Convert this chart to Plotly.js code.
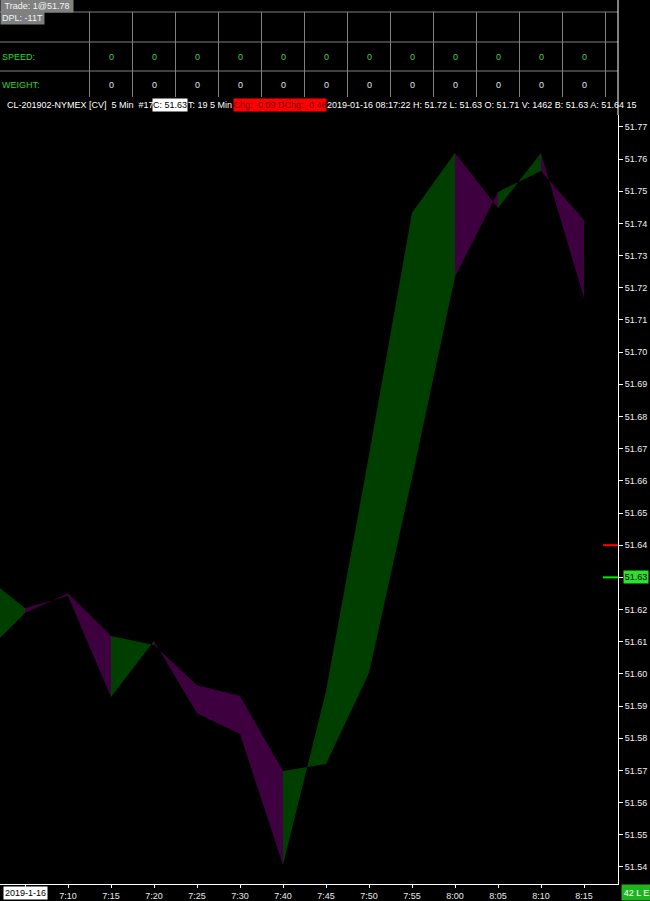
<!DOCTYPE html>
<html><head><meta charset="utf-8">
<script src="https://cdn.plot.ly/plotly-3.0.1.min.js"></script>
<style>html,body{margin:0;padding:0;background:#000;overflow:hidden}#chart{width:650px;height:901px}</style>
</head><body><div id="chart"></div>
<script>
// ---- data ----
const times = ["7:00","7:05","7:10","7:15","7:20","7:25","7:30","7:40","7:45","7:50","7:55","8:00","8:05","8:10","8:15"];
const lineA = [51.631, 51.6205, 51.6242, 51.5928, 51.6102, 51.5878, 51.5813, 51.5406, 51.5947, 51.668, 51.7433, 51.7619, 51.7448, 51.7619, 51.7168];
const lineB = [51.6056, 51.6189, 51.6251, 51.6118, 51.609, 51.5965, 51.5931, 51.5698, 51.572, 51.6003, 51.6609, 51.7234, 51.7498, 51.7563, 51.7411];
const priceTicks = [51.54,51.55,51.56,51.57,51.58,51.59,51.60,51.61,51.62,51.63,51.64,51.65,51.66,51.67,51.68,51.69,51.70,51.71,51.72,51.73,51.74,51.75,51.76,51.77];
const dateLabel = "2019-1-16";
const tableColumns = ["7:15","7:20","7:25","7:30","7:40","7:45","7:50","7:55","8:00","8:05","8:10","8:15"];
const speedValues = [0,0,0,0,0,0,0,0,0,0,0,0];
const weightValues = [0,0,0,0,0,0,0,0,0,0,0,0];
const bidPrice = 51.63, askPrice = 51.64;
const tradeText = "Trade: 1@51.78";
const dplText = "DPL: -11T";
const symbolText = "CL-201902-NYMEX [CV]\u00a0 5 Min\u00a0 #17";
const closeText = "C: 51.63";
const timeText = "T: 19 5 Min";
const chgText = "Chg: -0.09 DChg: -0.48";
const quoteText = "2019-01-16 08:17:22 H: 51.72 L: 51.63 O: 51.71 V: 1462 B: 51.63 A: 51.64 15";
const barCountText = "42 L E";

// ---- layout helpers ----
const W = 650, H = 901, M = {l:0, r:32, t:115, b:17};
const plotW = W - M.l - M.r, plotH = H - M.t - M.b;
const px = x => (x - M.l) / plotW;
const py = y => (H - M.b - y) / plotH;
const FONT = "Liberation Sans, Arial, sans-serif";
const FS = 9;
const UP = "#003f00", DOWN = "#3f003f";

const idx = times.map((_, i) => i);

// ---- traces: band segments ----
const traces = [];
for (let k = 1; k < times.length; k++) {
  const up = lineA[k] >= lineB[k];
  traces.push({
    type: "scatter", mode: "lines",
    x: [idx[k-1], idx[k], idx[k], idx[k-1], idx[k-1]],
    y: [lineA[k-1], lineA[k], lineB[k], lineB[k-1], lineA[k-1]],
    fill: "toself", fillcolor: up ? UP : DOWN,
    line: {width: 0, color: up ? UP : DOWN},
    hoverinfo: "skip", showlegend: false
  });
}

// ---- shapes ----
const shapes = [];
const gray = "#808080";
[12, 42, 71].forEach(y => shapes.push({type:"line", xref:"paper", yref:"paper", x0:0, x1:1, y0:py(y), y1:py(y), line:{color:gray, width:1}}));
const colIdx = tableColumns.map(t => times.indexOf(t));
colIdx.forEach((c, j) => {
  shapes.push({type:"line", xref:"x", yref:"paper", x0:c-0.5, x1:c-0.5, y0:py(12), y1:py(97), line:{color:gray, width:1}});
  if (j === colIdx.length - 1)
    shapes.push({type:"line", xref:"x", yref:"paper", x0:c+0.5, x1:c+0.5, y0:py(12), y1:py(97), line:{color:gray, width:1}});
});
// right axis line continuing to top
shapes.push({type:"line", xref:"paper", yref:"paper", x0:1, x1:1, y0:1, y1:py(0), line:{color:"#ffffff", width:1}});
// bid / ask markers
shapes.push({type:"line", xref:"paper", yref:"y", x0:px(603), x1:1, y0:askPrice, y1:askPrice, line:{color:"#ff0000", width:2}});
shapes.push({type:"line", xref:"paper", yref:"y", x0:px(603), x1:1, y0:bidPrice, y1:bidPrice, line:{color:"#00ee00", width:2}});

// ---- annotations ----
const ann = [];
function box(text, x, yc, opts) {
  ann.push(Object.assign({
    text, xref:"paper", yref:"paper", x:px(x), y:py(yc), xanchor:"left", yanchor:"middle",
    showarrow:false, font:{family:FONT, size:FS, color:"#ffffff"}, borderpad:0
  }, opts || {}));
}
box(tradeText, 0, 6, {bgcolor:gray, width:72, height:12, align:"center", font:{family:FONT,size:FS,color:"#f4f4f4"}});
box(dplText, 0, 18, {bgcolor:gray, width:43, height:12, align:"center", font:{family:FONT,size:FS,color:"#f4f4f4"}});
box("SPEED:", 1, 57, {font:{family:FONT,size:FS,color:"#22dd22"}});
box("WEIGHT:", 1, 85, {font:{family:FONT,size:FS,color:"#22dd22"}});
colIdx.forEach((c, j) => {
  ann.push({text:String(speedValues[j]), xref:"x", yref:"paper", x:c, y:py(57), xanchor:"center", yanchor:"middle", showarrow:false, font:{family:FONT,size:FS,color:"#55cc55"}});
  ann.push({text:String(weightValues[j]), xref:"x", yref:"paper", x:c, y:py(85), xanchor:"center", yanchor:"middle", showarrow:false, font:{family:FONT,size:FS,color:"#e0e4f0"}});
});
box(symbolText, 6, 105);
box(closeText, 152, 105, {bgcolor:"#ffffff", width:34, height:12, align:"center", font:{family:FONT,size:FS,color:"#000000"}});
box(timeText, 187, 105);
box(chgText, 233, 105, {bgcolor:"#ff0000", width:92, height:12, align:"center", font:{family:FONT,size:FS,color:"#7a0000"}});
box(quoteText, 326, 105);
// date label under first tick
ann.push({text:dateLabel, xref:"x", yref:"paper", x:1, y:py(893), xanchor:"center", yanchor:"middle", showarrow:false, bgcolor:"#ffffff", borderpad:1, font:{family:FONT,size:FS,color:"#000000"}});
// bar count box
box(barCountText, 621, 893, {bgcolor:"#1fb31f", width:29, height:15, align:"center", font:{family:FONT,size:FS,color:"#ffffff"}});
// bid label box
ann.push({text:bidPrice.toFixed(2), xref:"paper", yref:"y", x:px(623), y:bidPrice, xanchor:"left", yanchor:"middle", showarrow:false, bgcolor:"#2de02d", width:24, height:12, borderpad:0, font:{family:FONT,size:FS,color:"#000000"}});

const layout = {
  width: W, height: H, margin: M,
  paper_bgcolor: "#000000", plot_bgcolor: "#000000",
  showlegend: false,
  xaxis: {
    range: [0.4186, 14.7907], showgrid:false, zeroline:false,
    showline:true, linecolor:"#ffffff", linewidth:1,
    ticks:"outside", ticklen:3, tickcolor:"#ffffff", tickwidth:1,
    tickvals: idx.slice(1), ticktext: times.slice(1).map((t,i) => i === 0 ? "" : t),
    tickfont:{family:FONT, size:FS, color:"#e8e8e8"}, fixedrange:true
  },
  yaxis: {
    range: [51.5347, 51.7737], side:"right", showgrid:false, zeroline:false,
    showline:true, linecolor:"#ffffff", linewidth:1,
    ticks:"outside", ticklen:4, tickcolor:"#ffffff", tickwidth:1,
    tickvals: priceTicks, ticktext: priceTicks.map(v => v.toFixed(2)),
    tickfont:{family:FONT, size:FS, color:"#f0f0f0"}, fixedrange:true
  },
  shapes, annotations: ann
};
Plotly.newPlot("chart", traces, layout, {staticPlot:true, displayModeBar:false});
</script></body></html>
